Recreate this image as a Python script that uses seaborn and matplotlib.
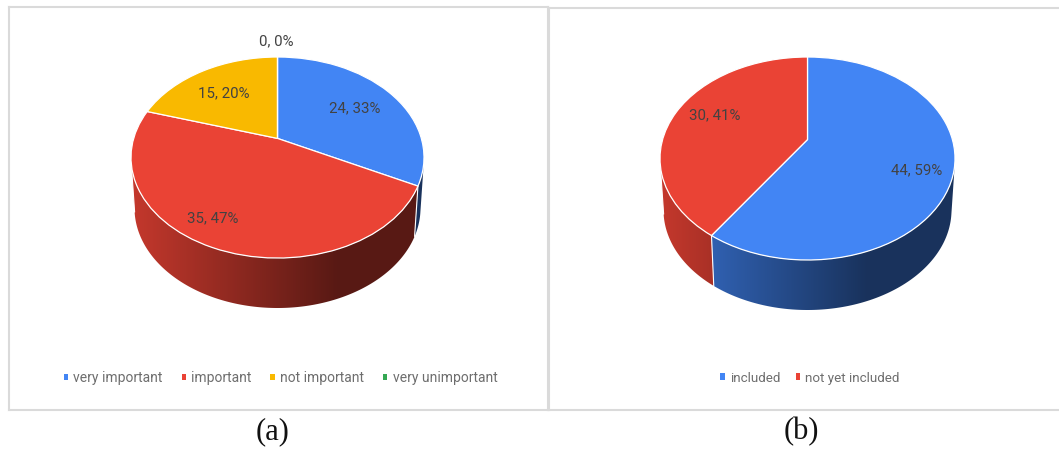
import numpy as np
import matplotlib
matplotlib.use("Agg")
import matplotlib.pyplot as plt
from matplotlib.colors import LinearSegmentedColormap, to_rgb
from matplotlib.patches import Polygon
from matplotlib.transforms import Transform
import seaborn as sns

# ---------- data ----------
labels_a = ["very important", "important", "not important", "very unimportant"]
values_a = [24, 35, 15, 0]
percent_a = [33, 47, 20, 0]
labels_b = ["included", "not yet included"]
values_b = [44, 30]
percent_b = [59, 41]
palette_a = ["#4285F4", "#EA4335", "#F9B900", "#34A853"]
palette_b = ["#4285F4", "#EA4335"]

W, H = 1059, 450
sns.set_theme(style="white")
plt.rcParams["font.family"] = ["Roboto", "DejaVu Sans"]
LABEL_SIZE = 10.8


class PerspectiveDisc(Transform):
    """Perspective view of the unit disc: centre moves up, wedges stay straight."""
    input_dims = 2
    output_dims = 2
    has_inverse = False

    def __init__(self, cx, cy, rx, ry, t):
        super().__init__()
        self.cx, self.cy, self.rx, self.ry, self.t = cx, cy, rx, ry, t

    def warp(self, xy):
        xy = np.asarray(xy, float)
        x, y = xy[:, 0], xy[:, 1]
        d = 1 + self.t * y
        return x * np.sqrt(1 - self.t ** 2) / d, (y + self.t) / d

    def transform_non_affine(self, xy):
        xp, yp = self.warp(xy)
        return np.column_stack([self.cx + self.rx * xp, self.cy - self.ry * yp])


def side_cmap(base):
    rgb = np.array(to_rgb(base))
    return LinearSegmentedColormap.from_list(
        "side", [(0.0, rgb * 0.84), (0.70, rgb * 0.38), (1.0, rgb * 0.38)])


def panel(fig, box, values, percents, labels, colors, geom, text_pos, legend_xy, legend_style, letter, letter_x):
    left, top, right, bottom = box
    ax = fig.add_axes([left / W, 1 - bottom / H, (right - left) / W, (bottom - top) / H])
    wedges, _ = ax.pie(values, colors=colors, startangle=90, counterclock=False, frame=True,
                       wedgeprops=dict(edgecolor="white", linewidth=0.9))

    cx, cy, rx, ry, t, cy2, rx2, ry2 = geom
    disc = PerspectiveDisc(cx, cy, rx, ry, t)
    for w in wedges:
        w.set_transform(disc + ax.transData)
        w.set_zorder(3)

    # side wall of each slice, from the same wedge angles
    gradient = np.linspace(0, 1, 512).reshape(1, -1)
    for w, col in zip(wedges, colors):
        if w.theta2 - w.theta1 < 1e-6:
            continue
        th = np.radians(np.linspace(w.theta1, w.theta2, 400))
        xp, yp = disc.warp(np.column_stack([np.cos(th), np.sin(th)]))
        keep = yp <= -0.04
        if keep.sum() < 2:
            continue
        xp, yp = xp[keep], yp[keep]
        upper = np.column_stack([cx + rx * xp, cy - ry * yp])
        lower = np.column_stack([cx + rx2 * xp, cy2 - ry2 * yp])
        outline = Polygon(np.vstack([upper, lower[::-1]]), closed=True, transform=ax.transData,
                          facecolor="none", edgecolor="none")
        ax.add_patch(outline)
        im = ax.imshow(gradient, extent=(cx - rx, cx + rx, cy2 + ry2 + 2, cy - ry), aspect="auto",
                       cmap=side_cmap(col), vmin=0, vmax=1, zorder=1, interpolation="bilinear")
        im.set_clip_path(outline)
        ax.plot([upper[0, 0], lower[0, 0]], [upper[0, 1], lower[0, 1]],
                color="white", lw=0.8, zorder=2)

    ax.set_aspect("auto")
    ax.set_xlim(left, right)
    ax.set_ylim(bottom, top)
    ax.set_xticks([])
    ax.set_yticks([])
    for s in ax.spines.values():
        s.set_color("#DADADA")
        s.set_linewidth(1.5)

    for (x, y), v, p in zip(text_pos, values, percents):
        ax.text(x, y, f"{v}, {p}%", ha="center", va="center", fontsize=LABEL_SIZE,
                color="#424242", zorder=4)

    size, spacing = legend_style
    leg = ax.legend(wedges, labels, loc="center", bbox_to_anchor=legend_xy, bbox_transform=ax.transData,
                    ncol=len(labels), frameon=False, fontsize=size, labelcolor="#6E6E6E",
                    handlelength=0.32, handleheight=0.38, handletextpad=0.38,
                    columnspacing=spacing, borderpad=0, borderaxespad=0)
    for h in leg.legend_handles:
        h.set_edgecolor("none")

    ax.text(letter_x, 432, letter, ha="center", va="center", fontsize=22,
            family="Liberation Serif", color="#111111", clip_on=False)
    return ax


fig = plt.figure(figsize=(W / 100, H / 100), dpi=100, facecolor="white")

panel(fig, (9, 7, 548, 410), values_a, percent_a, labels_a, palette_a,
      (277.5, 157.5, 146.5, 100.5, 0.19, 208, 143, 100),
      [(355, 108), (213, 218), (224, 93), (276, 41)], (280.5, 378), (10.0, 1.35), "(a)", 273)
panel(fig, (549, 8, 1070, 410), values_b, percent_b, labels_b, palette_b,
      (807.5, 158.5, 147.5, 101.5, 0.187, 210, 144, 100),
      [(917, 170), (715, 115)], (810, 378), (9.6, 1.2), "(b)", 801)

fig.savefig("out.png", dpi=100, facecolor="white")
